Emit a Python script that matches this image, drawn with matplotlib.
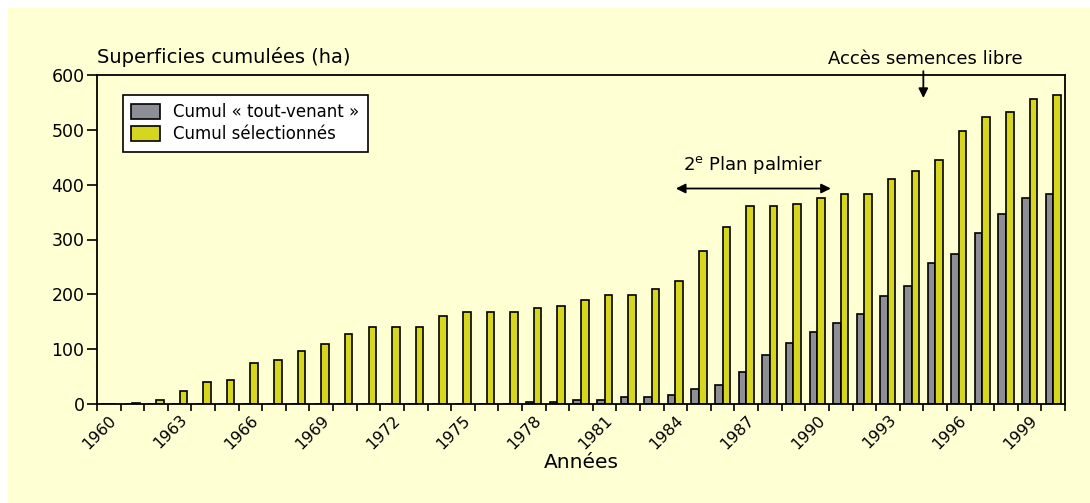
import matplotlib
matplotlib.use("Agg")
from matplotlib import pyplot as plt
from matplotlib.patches import Rectangle

years = list(range(1960, 2001))
tout_venant = [0, 0, 0, 0, 0, 0, 0, 0, 0, 0,
               0, 0, 0, 0, 0, 0, 0, 0, 3, 4,
               8, 8, 12, 12, 16, 28, 35, 59, 90, 112,
               131, 147, 165, 197, 215, 257, 273, 311, 346, 375,
               383]
selectionnes = [0, 2, 7, 24, 40, 43, 75, 81, 97, 109,
                128, 140, 140, 140, 160, 167, 167, 167, 175, 178,
                190, 198, 198, 209, 225, 279, 322, 362, 361, 365,
                376, 383, 383, 410, 425, 445, 498, 524, 532, 556,
                563]
label_years = years[::3]

bg = "#FFFFD4"
yellow = "#D6D61E"
grey = "#8E8E96"

fig = plt.figure(figsize=(10.9, 5.03), dpi=100, facecolor="white")
fig.patches.append(Rectangle((8 / 1090, 0), 1, 1 - 8 / 503, transform=fig.transFigure,
                             facecolor=bg, edgecolor="none", zorder=-1))
ax = fig.add_axes([97 / 1090, 1 - 404 / 503, 968 / 1090, 329 / 503])
ax.set_facecolor(bg)

w = 0.32
xg = [y - w / 2 for y in years]
xy = [y + w / 2 for y in years]
ax.bar(xg, tout_venant, width=w, color=grey, edgecolor="black", linewidth=1.2,
       label="Cumul « tout-venant »")
ax.bar(xy, selectionnes, width=w, color=yellow, edgecolor="black", linewidth=1.2,
       label="Cumul sélectionnés")

ax.set_xlim(1959.5, 2000.5)
ax.set_ylim(0, 600)
ax.set_yticks(range(0, 601, 100))
ax.set_xticks([y - 0.5 for y in years] + [2000.5], minor=True)
ax.set_xticks(label_years)
ax.set_xticklabels([str(y) for y in label_years], rotation=45, ha="right",
                   va="top", rotation_mode="anchor", fontsize=11.5)
ax.tick_params(axis="x", which="major", length=0, pad=6)
ax.tick_params(axis="x", which="minor", length=5, width=1.2, direction="out")
ax.tick_params(axis="y", length=7, width=1.2, labelsize=12.5, pad=2)
for s in ax.spines.values():
    s.set_linewidth(1.3)

ax.text(0, 1.025, "Superficies cumulées (ha)", transform=ax.transAxes,
        fontsize=14, ha="left", va="bottom")
ax.set_xlabel("Années", fontsize=14.5, labelpad=1)

leg = ax.legend(loc="upper left", bbox_to_anchor=(0.027, 0.94), fontsize=12,
                frameon=True, fancybox=False, framealpha=1, edgecolor="black",
                handlelength=1.7, handleheight=1.0, borderpad=0.5, labelspacing=0.25,
                borderaxespad=0)
leg.get_frame().set_linewidth(1.2)

# annotations
ax.annotate("", xy=(1994.5, 553), xytext=(1994.5, 612), annotation_clip=False,
            arrowprops=dict(arrowstyle="-|>", color="black", lw=1.3, mutation_scale=14))
ax.text(1994.6, 630, "Accès semences libre", fontsize=13, ha="center", va="center",
        clip_on=False)

ax.annotate("", xy=(1983.9, 393), xytext=(1990.7, 393),
            arrowprops=dict(arrowstyle="<|-|>", color="black", lw=1.3, mutation_scale=14))
ax.text(1987.3, 435, "2$^{\\mathrm{e}}$ Plan palmier", fontsize=13, ha="center",
        va="center")

fig.savefig("out.png", dpi=100, facecolor=fig.get_facecolor())
